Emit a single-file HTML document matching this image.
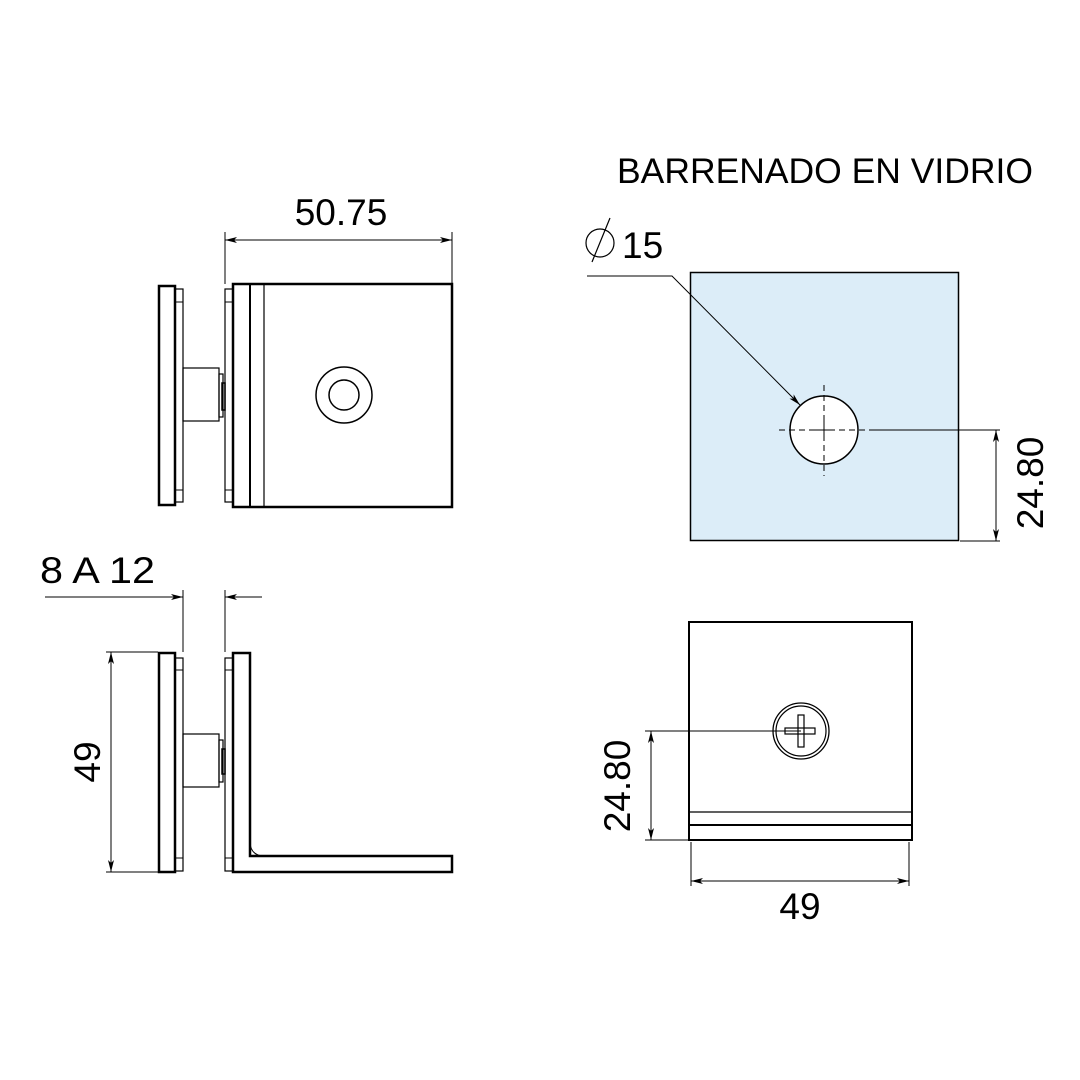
<!DOCTYPE html>
<html><head><meta charset="utf-8"><style>html,body{margin:0;padding:0;background:#fff}svg{display:block}</style></head>
<body>
<svg width="1080" height="1080" viewBox="0 0 1080 1080" xmlns="http://www.w3.org/2000/svg" font-family="Liberation Sans, Arial, sans-serif">
<defs>
<marker id="a" viewBox="0 0 12 6" refX="12" refY="3" markerWidth="12" markerHeight="6" orient="auto-start-reverse" markerUnits="userSpaceOnUse"><path d="M0,0 L12,3 L0,6 L3,3 z" fill="#000"/></marker>
</defs>
<rect width="1080" height="1080" fill="#fff"/>
<g fill="#000">
<text x="617" y="183" font-size="35" textLength="416" lengthAdjust="spacingAndGlyphs">BARRENADO EN VIDRIO</text>
<text x="341" y="225" font-size="37" text-anchor="middle">50.75</text>
<text x="40" y="583" font-size="37" textLength="115" lengthAdjust="spacingAndGlyphs">8 A 12</text>
<text x="622" y="258" font-size="37">15</text>
<text x="800" y="919" font-size="37" text-anchor="middle">49</text>
<text transform="translate(100,762) rotate(-90)" font-size="37" text-anchor="middle">49</text>
<text transform="translate(630,786) rotate(-90)" font-size="37" text-anchor="middle">24.80</text>
<text transform="translate(1043,483) rotate(-90)" font-size="37" text-anchor="middle">24.80</text>
</g>
<g fill="none" stroke="#000">
<!-- top view -->
<rect x="159" y="286" width="16" height="219" stroke-width="2.5"/>
<rect x="175" y="289" width="8" height="213" stroke-width="1.2"/>
<line x1="175" y1="302" x2="183" y2="302" stroke-width="1"/><line x1="175" y1="490" x2="183" y2="490" stroke-width="1"/>
<rect x="183" y="368" width="36" height="53" stroke-width="1.2"/>
<rect x="219" y="374" width="4" height="43" stroke-width="1.2"/>
<rect x="222" y="383" width="3" height="27" stroke-width="1.5"/>
<rect x="225" y="289" width="8" height="213" stroke-width="1.2"/>
<line x1="225" y1="302" x2="233" y2="302" stroke-width="1"/><line x1="225" y1="490" x2="233" y2="490" stroke-width="1"/>
<rect x="233" y="284" width="219" height="223" stroke-width="2.5"/>
<line x1="250" y1="284" x2="250" y2="507" stroke-width="2"/>
<line x1="264" y1="284" x2="264" y2="507" stroke-width="1.2"/>
<circle cx="344" cy="395" r="28" stroke-width="1.5"/>
<circle cx="344" cy="395" r="15" stroke-width="1.5"/>
<line x1="225" y1="232" x2="225" y2="284" stroke-width="1"/>
<line x1="452" y1="232" x2="452" y2="284" stroke-width="1"/>
<line x1="225" y1="240" x2="452" y2="240" stroke-width="1" marker-start="url(#a)" marker-end="url(#a)"/>
<!-- side view -->
<rect x="159" y="653" width="16" height="219" stroke-width="2.5"/>
<rect x="175" y="658" width="8" height="213" stroke-width="1.2"/>
<line x1="175" y1="670" x2="183" y2="670" stroke-width="1"/><line x1="175" y1="858" x2="183" y2="858" stroke-width="1"/>
<rect x="183" y="734" width="36" height="53" stroke-width="1.2"/>
<rect x="219" y="740" width="4" height="42" stroke-width="1.2"/>
<rect x="222" y="749" width="3" height="25" stroke-width="1.5"/>
<rect x="225" y="658" width="8" height="213" stroke-width="1.2"/>
<line x1="225" y1="670" x2="233" y2="670" stroke-width="1"/><line x1="225" y1="858" x2="233" y2="858" stroke-width="1"/>
<path d="M233,653 L250,653 L250,856 L452,856 L452,872 L233,872 Z" stroke-width="2.5"/>
<path d="M250,843 Q251,855 263,856" stroke-width="1"/>
<line x1="183" y1="590" x2="183" y2="652" stroke-width="1"/>
<line x1="225" y1="590" x2="225" y2="652" stroke-width="1"/>
<line x1="45" y1="597" x2="183" y2="597" stroke-width="1" marker-end="url(#a)"/>
<line x1="262" y1="597" x2="225" y2="597" stroke-width="1" marker-end="url(#a)"/>
<line x1="106" y1="652" x2="158" y2="652" stroke-width="1"/>
<line x1="106" y1="872" x2="158" y2="872" stroke-width="1"/>
<line x1="111" y1="652" x2="111" y2="872" stroke-width="1" marker-start="url(#a)" marker-end="url(#a)"/>
<!-- glass -->
<rect x="690.5" y="272.5" width="268" height="268" fill="#dcedf8" stroke-width="1.5"/>
<circle cx="824" cy="430" r="34" fill="#fff" stroke-width="1.5"/>
<g stroke-width="1" stroke-dasharray="6,4">
<line x1="824" y1="385" x2="824" y2="476"/><line x1="779" y1="430" x2="870" y2="430"/>
</g>
<line x1="814" y1="430" x2="834" y2="430" stroke-width="1"/><line x1="824" y1="420" x2="824" y2="440" stroke-width="1"/>
<line x1="870" y1="430" x2="1000" y2="430" stroke-width="1"/>
<line x1="960" y1="541" x2="1000" y2="541" stroke-width="1"/>
<line x1="996" y1="430" x2="996" y2="541" stroke-width="1" marker-start="url(#a)" marker-end="url(#a)"/>
<polyline points="587,276 672,276 800,405" stroke-width="1" marker-end="url(#a)"/>
<circle cx="600" cy="243" r="14" stroke-width="1.2"/>
<line x1="592" y1="262" x2="610" y2="218" stroke-width="1.2"/>
<!-- front view -->
<rect x="689" y="622" width="223" height="218" stroke-width="2"/>
<line x1="689" y1="812" x2="912" y2="812" stroke-width="1.2"/>
<line x1="689" y1="825" x2="912" y2="825" stroke-width="2"/>
<circle cx="801" cy="731" r="28" stroke-width="1.3"/>
<circle cx="801" cy="731" r="25" stroke-width="1.2"/>
<rect x="785" y="728" width="30" height="6" stroke-width="1.2"/>
<rect x="798" y="715" width="6" height="32" stroke-width="1.2"/>
<line x1="645" y1="731" x2="801" y2="731" stroke-width="1"/>
<line x1="645" y1="840" x2="689" y2="840" stroke-width="1"/>
<line x1="651" y1="731" x2="651" y2="840" stroke-width="1" marker-start="url(#a)" marker-end="url(#a)"/>
<line x1="691" y1="842" x2="691" y2="886" stroke-width="1"/>
<line x1="909" y1="842" x2="909" y2="886" stroke-width="1"/>
<line x1="691" y1="881" x2="909" y2="881" stroke-width="1" marker-start="url(#a)" marker-end="url(#a)"/>
</g>
</svg>
</body></html>
